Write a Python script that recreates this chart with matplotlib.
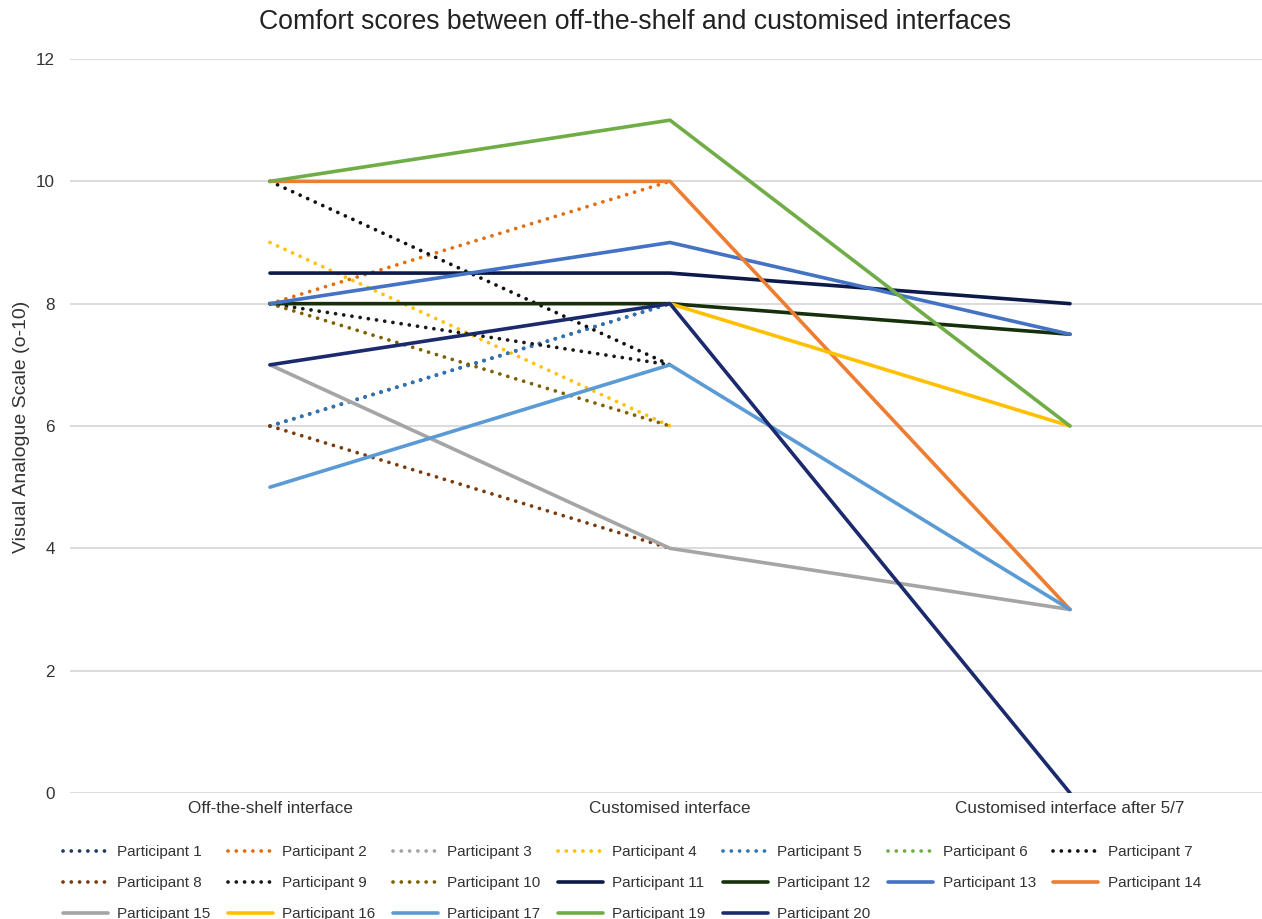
import numpy as np
import matplotlib
matplotlib.use("Agg")
import matplotlib.pyplot as plt

plt.rcParams['font.family'] = ['Liberation Sans', 'DejaVu Sans']

title = "Comfort scores between off-the-shelf and customised interfaces"
ylabel = "Visual Analogue Scale (o-10)"
categories = ["Off-the-shelf interface", "Customised interface", "Customised interface after 5/7"]
nan = np.nan

# Dotted series (two time points)
p1 = [6, 8, nan]
p2 = [8, 10, nan]
p3 = [nan, nan, nan]
p4 = [9, 6, nan]
p5 = [6, 8, nan]
p6 = [nan, nan, nan]
p7 = [10, 7, nan]
p8 = [6, 4, nan]
p9 = [8, 7, nan]
p10 = [8, 6, nan]
# Solid series (three time points)
p11 = [8.5, 8.5, 8]
p12 = [8, 8, 7.5]
p13 = [8, 9, 7.5]
p14 = [10, 10, 3]
p15 = [7, 4, 3]
p16 = [nan, 8, 6]
p17 = [5, 7, 3]
p19 = [10, 11, 6]
p20 = [7, 8, 0]

names = ["Participant 1", "Participant 2", "Participant 3", "Participant 4", "Participant 5",
         "Participant 6", "Participant 7", "Participant 8", "Participant 9", "Participant 10",
         "Participant 11", "Participant 12", "Participant 13", "Participant 14", "Participant 15",
         "Participant 16", "Participant 17", "Participant 19", "Participant 20"]
values = [p1, p2, p3, p4, p5, p6, p7, p8, p9, p10,
          p11, p12, p13, p14, p15, p16, p17, p19, p20]
colors = ["#1F3864", "#E46C0A", "#A5A5A5", "#FFC000", "#2E75B6", "#70AD47", "#111111",
          "#7B3A0C", "#1A1A1A", "#7F6000",
          "#0C1A4A", "#15300A", "#4472C4", "#ED7D31", "#A5A5A5", "#FFC000", "#5B9BD5",
          "#70AD47", "#1B2A6E"]
dotted = [True] * 10 + [False] * 9

W, H = 1262, 919
fig = plt.figure(figsize=(W / 100, H / 100), dpi=100)
ax = fig.add_axes([70 / W, (H - 793) / H, 1200 / W, (793 - 59) / H])

x = np.arange(len(categories))
handles = []
for name, vals, col, dot in zip(names, values, colors, dotted):
    if dot:
        ln, = ax.plot(x, vals, color=col, lw=2.7, linestyle=(0, (0.01, 2.2)),
                      dash_capstyle='round', label=name, zorder=3)
    else:
        ln, = ax.plot(x, vals, color=col, lw=2.6, solid_capstyle='round',
                      label=name, zorder=3)
    handles.append(ln)

ax.set_xlim(-0.5, 2.5)
ax.set_ylim(0, 12)
ax.set_yticks(np.arange(0, 13, 2))
ax.set_xticks(x)
ax.set_xticklabels(categories)
ax.grid(axis='y', color='#D9D9D9', lw=1.3, zorder=0)
ax.set_axisbelow(True)
for s in ax.spines.values():
    s.set_visible(False)
ax.tick_params(axis='both', length=0, labelsize=12.3, colors='#333333')
ax.tick_params(axis='y', pad=11)
ax.tick_params(axis='x', pad=6)

fig.text(635 / W, 1 - 22 / H, title, ha='center', va='center', fontsize=19.2, color='#222222')
fig.text(22 / W, 1 - 427 / H, ylabel, ha='center', va='center', rotation=90,
         fontsize=14, color='#333333')

# Legend: Excel row-major layout -> reorder for matplotlib column-major fill
ncol = 7
n = len(handles)
nrows = int(np.ceil(n / ncol))
grid = [[None] * ncol for _ in range(nrows)]
for i, h in enumerate(handles):
    grid[i // ncol][i % ncol] = h
order = [grid[r][c] for c in range(ncol) for r in range(nrows) if grid[r][c] is not None]
leg = fig.legend(order, [h.get_label() for h in order], ncol=ncol, frameon=False,
                 loc='upper left', bbox_to_anchor=(63 / W, 1 - 845 / H),
                 fontsize=11, handlelength=2.95, handletextpad=0.6,
                 columnspacing=1.15, labelspacing=1.12, borderpad=0, borderaxespad=0)
for t in leg.get_texts():
    t.set_color('#333333')

fig.savefig("out.png", dpi=100)
